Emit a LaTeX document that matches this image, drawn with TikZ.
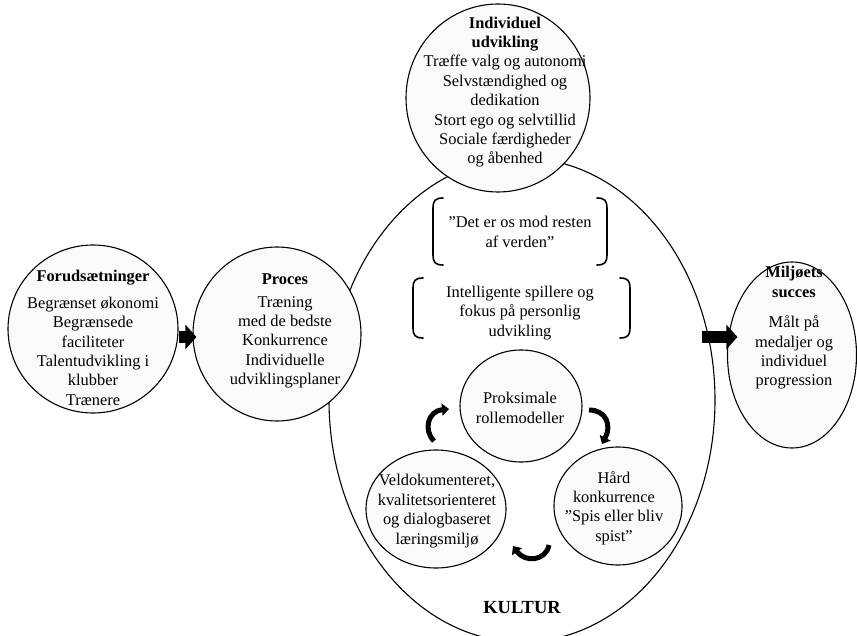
\documentclass[tikz,border=0pt]{standalone}
\usepackage{fontspec}
\setmainfont{Liberation Serif}
\usetikzlibrary{shapes.geometric,arrows.meta}
\begin{document}
\begin{tikzpicture}[x=1pt,y=-1pt,
  bubble/.style={ellipse, draw, line width=1.1pt, fill=black!2, inner sep=0pt},
  bigring/.style={ellipse, draw, line width=1.1pt, fill=white, inner sep=0pt},
  txt/.style={align=center, inner sep=0pt, font={\fontsize{16.4}{19.4}\selectfont}},
  brk/.style={line width=1.6pt, line cap=round},
  barr/.style={line width=12pt, -{Triangle[length=11pt,width=24pt]}},
  carr/.style={line width=5pt, -{Triangle[length=7pt,width=12pt]}}]
\useasboundingbox (0,0) rectangle (857,636);

% big culture ellipse
\node[bigring, minimum width=386pt, minimum height=484pt] (kultur) at (522,400) {};

% outer bubbles
\node[bubble, minimum width=170pt, minimum height=168pt] (forud) at (93,329) {};
\node[bubble, minimum width=168pt, minimum height=174pt] (proces) at (277,334) {};
\node[bubble, minimum width=184pt, minimum height=188pt] (indiv) at (498,98) {};
\node[bubble, minimum width=129pt, minimum height=186pt] (miljo) at (792,355) {};

% inner bubbles
\node[bubble, minimum width=122pt, minimum height=112pt] (prok) at (521,406) {};
\node[bubble, minimum width=140pt, minimum height=118pt] (veld) at (436,509) {};
\node[bubble, minimum width=128pt, minimum height=118pt] (hard) at (618,506) {};

% texts
\node[txt] (forudT) at (93,338) {\textbf{Forudsætninger}\\[7pt]Begrænset økonomi\\Begrænsede\\faciliteter\\Talentudvikling i\\klubber\\Trænere};
\node[txt] (procesT) at (285,331) {\textbf{Proces}\\[3pt]Træning\\med de bedste\\Konkurrence\\Individuelle\\udviklingsplaner};
\node[txt] (indivT) at (505,92) {\textbf{Individuel}\\\textbf{udvikling}\\Træffe valg og autonomi\\Selvstændighed og\\dedikation\\Stort ego og selvtillid\\Sociale færdigheder\\og åbenhed};
\node[txt] (miljoT) at (794,328) {\textbf{Miljøets}\\\textbf{succes}\\[11pt]Målt på\\medaljer og\\individuel\\progression};
\node[txt] (prokT) at (520,408) {Proksimale\\rollemodeller};
\node[txt] (veldT) at (437,511) {Veldokumenteret,\\kvalitetsorienteret\\og dialogbaseret\\læringsmiljø};
\node[txt] (hardT) at (614,508) {Hård\\konkurrence\\”Spis eller bliv\\spist”};
\node[txt, font={\fontsize{18.5}{21}\selectfont\bfseries}] (kulturT) at (522,608) {KULTUR};
\node[txt] (q1) at (520,232) {”Det er os mod resten\\af verden”};
\node[txt] (q2) at (520,313) {Intelligente spillere og\\fokus på personlig\\udvikling};

% brackets
\draw[brk] (443,198) .. controls (435,198) and (433,201) .. (433,208) -- (433,255) .. controls (433,262) and (435,265) .. (443,265);
\draw[brk] (597,198) .. controls (605,198) and (607,201) .. (607,208) -- (607,255) .. controls (607,262) and (605,265) .. (597,265);
\draw[brk] (423,278) .. controls (415,278) and (413,281) .. (413,288) -- (413,328) .. controls (413,335) and (415,338) .. (423,338);
\draw[brk] (620,278) .. controls (628,278) and (630,281) .. (630,288) -- (630,328) .. controls (630,335) and (628,338) .. (620,338);

% block arrows
\draw[barr] ([yshift=-8pt]forud.east) -- ([xshift=4pt,yshift=-3pt]proces.west);
\coordinate (rstart) at (702,337);
\draw[barr] (rstart) -- ([xshift=10.5pt,yshift=18pt]miljo.west);

% cycle arrows
\coordinate (c1s) at (434,441);
\coordinate (c1e) at (449,409);
\draw[carr] (c1s) .. controls (423,430) and (428,411) .. (c1e);
\coordinate (c2s) at (589,410);
\coordinate (c2e) at (602,444);
\draw[carr] (c2s) .. controls (606,410) and (612,425) .. (c2e);
\coordinate (c3s) at (549,545);
\coordinate (c3e) at (513,546);
\draw[carr] (c3s) .. controls (546,561) and (525,563) .. (c3e);
\end{tikzpicture}
\end{document}
